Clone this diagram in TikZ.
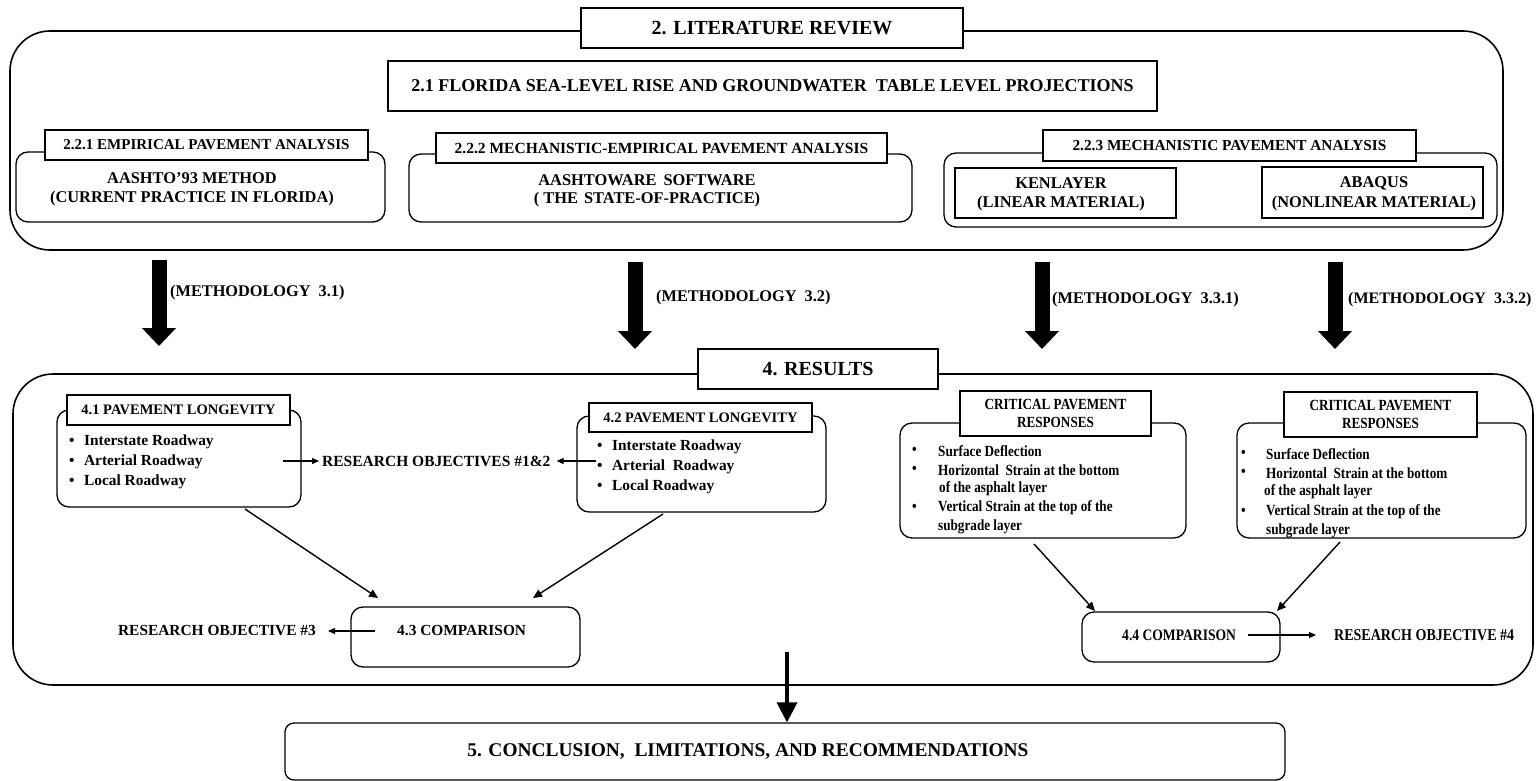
\documentclass[tikz,border=0pt]{standalone}
\usepackage{fontspec}
\setmainfont{Liberation Serif}
\newfontfamily\cond[FakeStretch=0.85]{Liberation Serif}
\usetikzlibrary{arrows.meta}

\begin{document}
\begin{tikzpicture}[x=1pt,y=-1pt,
  box/.style={draw, line width=1.3pt, fill=white, inner sep=0pt},
  rbox/.style={box, rounded corners=12pt},
  big/.style={draw, line width=1.6pt, inner sep=0pt, rounded corners=40pt},
  txt/.style={inner sep=0pt, font=\bfseries},
  fat/.style={line width=15pt, -{Triangle[width=33pt,length=18pt]}},
  thin/.style={line width=1.1pt, -{Triangle[width=6pt,length=7pt]}},
  mid/.style={line width=1.4pt, -{Triangle[width=8pt,length=9pt]}},
  fs/.style={font=\bfseries\fontsize{#1}{#1}\selectfont},
  cs/.style={font=\cond\bfseries\fontsize{#1}{#1}\selectfont}
]
\useasboundingbox (0,0) rectangle (1540,781);

% ---------- Literature review ----------
\node[big, minimum width=1493pt, minimum height=219pt] (lit) at (756.5,140.5) {};
\node[box, minimum width=382pt, minimum height=40pt, fs=20] (litT) at (772,28) {2. LITERATURE REVIEW};
\node[box, minimum width=769pt, minimum height=50pt, fs=18] (slr) at (772.5,86) {2.1 FLORIDA SEA-LEVEL RISE AND GROUNDWATER\ \ TABLE LEVEL PROJECTIONS};

% 2.2.1
\node[rbox, minimum width=369pt, minimum height=70pt] (b221) at (200.5,187) {};
\node[box, minimum width=323pt, minimum height=30pt, fs=15] (h221) at (206.5,145) {2.2.1 EMPIRICAL PAVEMENT ANALYSIS};
\node[txt, fs=16.4] (t221a) at (192,178) {AASHTO’93 METHOD};
\node[txt, fs=16.4] (t221b) at (192,199) {(CURRENT PRACTICE IN FLORIDA)};

% 2.2.2
\node[rbox, minimum width=503pt, minimum height=68pt] (b222) at (660.5,188) {};
\node[box, minimum width=451pt, minimum height=30pt, fs=15.5] (h222) at (661.5,148) {2.2.2 MECHANISTIC-EMPIRICAL PAVEMENT ANALYSIS};
\node[txt, fs=16.4] (t222a) at (647,180) {AASHTOWARE\hspace{7pt}SOFTWARE};
\node[txt, fs=16.4] (t222b) at (647,200) {(\ THE\hspace{6pt}STATE-OF-PRACTICE)};

% 2.2.3
\node[rbox, minimum width=553pt, minimum height=74pt] (b223) at (1220.5,190) {};
\node[box, minimum width=373pt, minimum height=31pt, fs=15.3] (h223) at (1229.5,145.5) {2.2.3 MECHANISTIC PAVEMENT ANALYSIS};
\node[box, minimum width=221pt, minimum height=50pt] (ken) at (1065.5,193) {};
\node[txt, fs=16.4] (kena) at (1061,183) {KENLAYER};
\node[txt, fs=16.4] (kenb) at (1061,204) {(LINEAR MATERIAL)};
\node[box, minimum width=221pt, minimum height=51pt] (aba) at (1372.5,192.5) {};
\node[txt, fs=16.4] (abaa) at (1374,183) {ABAQUS};
\node[txt, fs=16.4] (abab) at (1374,204) {(NONLINEAR MATERIAL)};

% ---------- Methodology arrows ----------
\coordinate (m1s) at (159,260);  \coordinate (m1e) at (159,346);
\coordinate (m2s) at (635,262);  \coordinate (m2e) at (635,349);
\coordinate (m3s) at (1042,262); \coordinate (m3e) at (1042,349);
\coordinate (m4s) at (1335,262); \coordinate (m4e) at (1335,349);
\draw[fat] (m1s) -- (m1e);
\draw[fat] (m2s) -- (m2e);
\draw[fat] (m3s) -- (m3e);
\draw[fat] (m4s) -- (m4e);
\node[txt, fs=16.3, anchor=west] (ml1) at (170,293) {(METHODOLOGY\ \ 3.1)};
\node[txt, fs=16.3, anchor=west] (ml2) at (656,298) {(METHODOLOGY\ \ 3.2)};
\node[txt, fs=16.3, anchor=west] (ml3) at (1052,300) {(METHODOLOGY\ \ 3.3.1)};
\node[txt, fs=16, anchor=west] (ml4) at (1348,300) {(METHODOLOGY\ \ 3.3.2)};

% ---------- Results ----------
\node[big, minimum width=1520pt, minimum height=311pt] (res) at (773,529.5) {};
\node[box, minimum width=240pt, minimum height=40pt, fs=20] (resT) at (818,369) {4. RESULTS};

% 4.1
\node[rbox, minimum width=244pt, minimum height=97pt] (b41) at (179,458.5) {};
\node[box, minimum width=223pt, minimum height=30pt, fs=14.5] (h41) at (178.5,410) {4.1 PAVEMENT LONGEVITY};
\node[txt, fs=15.4, anchor=west] (p41a) at (69,442) {•\hspace{9.5pt}Interstate Roadway};
\node[txt, fs=15.4, anchor=west] (p41b) at (69,462) {•\hspace{9.5pt}Arterial Roadway};
\node[txt, fs=15.4, anchor=west] (p41c) at (69,482) {•\hspace{9.5pt}Local Roadway};

% 4.2
\node[rbox, minimum width=249pt, minimum height=96pt] (b42) at (701.5,464) {};
\node[box, minimum width=223pt, minimum height=29pt, fs=14.5] (h42) at (700.5,417.5) {4.2 PAVEMENT LONGEVITY};
\node[txt, fs=15.4, anchor=west] (p42a) at (597,447) {•\hspace{9.5pt}Interstate Roadway};
\node[txt, fs=15.4, anchor=west] (p42b) at (597,467) {•\hspace{9.5pt}Arterial\ \ Roadway};
\node[txt, fs=15.4, anchor=west] (p42c) at (597,487) {•\hspace{9.5pt}Local Roadway};

\node[txt, fs=15.5, anchor=west] (ro12) at (322,461) {RESEARCH OBJECTIVES \#1\&2};
\coordinate (a41) at (283,461);
\coordinate (a42) at (596,461);
\draw[thin] (a41) -- ([xshift=-3pt]ro12.west);
\draw[thin] (a42) -- ([xshift=6pt]ro12.east);

% 4.3
\node[rbox, minimum width=229pt, minimum height=60pt] (b43) at (465.5,637) {};
\node[txt, fs=15.4, anchor=west] (t43) at (397,631) {4.3 COMPARISON};
\node[txt, fs=15.4, anchor=east] (ro3) at (316,631) {RESEARCH OBJECTIVE \#3};
\coordinate (a43) at (375,631);
\draw[thin] (a43) -- ([xshift=12pt]ro3.east);
\coordinate (c41) at (245,509); \coordinate (d43) at (378,598);
\coordinate (c42) at (663,514); \coordinate (e43) at (533,598);
\draw[mid] (c41) -- (d43);
\draw[mid] (c42) -- (e43);

% critical responses, left
\node[rbox, minimum width=286pt, minimum height=115pt] (cr1) at (1043,480.5) {};
\node[box, minimum width=191pt, minimum height=45pt, cs=15.5, align=center] (hc1) at (1055.5,413.5) {CRITICAL PAVEMENT\\[3pt]RESPONSES};
\node[txt, cs=15.5, anchor=west] (q1a) at (912,451) {•};
\node[txt, cs=15.5, anchor=west] (q1a') at (938,451) {Surface Deflection};
\node[txt, cs=15.5, anchor=west] (q1b) at (912,470) {•};
\node[txt, cs=15.5, anchor=west] (q1b') at (938,470) {Horizontal\ \ Strain at the bottom};
\node[txt, cs=15.5, anchor=west] (q1c') at (939,489) {of the asphalt layer};
\node[txt, cs=15.5, anchor=west] (q1d) at (912,508) {•};
\node[txt, cs=15.5, anchor=west] (q1d') at (938,508) {Vertical Strain at the top of the};
\node[txt, cs=15.5, anchor=west] (q1e') at (938,527) {subgrade layer};

% critical responses, right
\node[rbox, minimum width=289pt, minimum height=115pt] (cr2) at (1381.5,480.5) {};
\node[box, minimum width=193pt, minimum height=45pt, cs=15.5, align=center] (hc2) at (1380.5,414.5) {CRITICAL PAVEMENT\\[3pt]RESPONSES};
\node[txt, cs=15.5, anchor=west] (q2a) at (1241,454) {•};
\node[txt, cs=15.5, anchor=west] (q2a') at (1266,454) {Surface Deflection};
\node[txt, cs=15.5, anchor=west] (q2b) at (1241,473) {•};
\node[txt, cs=15.5, anchor=west] (q2b') at (1266,473) {Horizontal\ \ Strain at the bottom};
\node[txt, cs=15.5, anchor=west] (q2c') at (1264,492) {of the asphalt layer};
\node[txt, cs=15.5, anchor=west] (q2d) at (1241,512) {•};
\node[txt, cs=15.5, anchor=west] (q2d') at (1266,512) {Vertical Strain at the top of the};
\node[txt, cs=15.5, anchor=west] (q2e') at (1266,531) {subgrade layer};

% 4.4
\node[rbox, minimum width=198pt, minimum height=50pt] (b44) at (1181,637) {};
\node[txt, cs=16, anchor=west] (t44) at (1122,635) {4.4 COMPARISON};
\node[txt, cs=16.5, anchor=west] (ro4) at (1334,635) {RESEARCH OBJECTIVE \#4};
\coordinate (a44) at (1248,635);
\draw[thin] (a44) -- ([xshift=-18pt]ro4.west);
\coordinate (c43) at (1034,544); \coordinate (d44) at (1095,611);
\coordinate (c44) at (1340,542); \coordinate (e44) at (1277,611);
\draw[mid] (c43) -- (d44);
\draw[mid] (c44) -- (e44);

% ---------- Conclusion ----------
\node[rbox, rounded corners=9pt, minimum width=1000pt, minimum height=57pt] (con) at (785,751.5) {};
\node[txt, fs=19.4] (cont) at (748,752) {5. CONCLUSION,\ \ LIMITATIONS, AND RECOMMENDATIONS};
\coordinate (r5) at (787,652);
\draw[line width=3.5pt, -{Triangle[width=20pt,length=20pt]}] (r5) -- (con.north -| r5);
\end{tikzpicture}
\end{document}
